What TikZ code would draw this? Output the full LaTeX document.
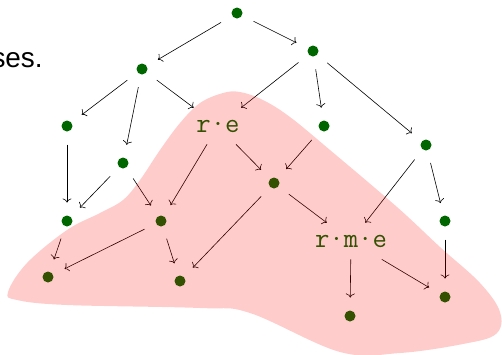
\documentclass[tikz,border=0pt]{standalone}
\usepackage{fontspec}
\setmainfont{Liberation Sans}
\usetikzlibrary{arrows.meta}
\definecolor{cgreen}{HTML}{006600}
\definecolor{cred}{HTML}{FF0000}
\tikzset{
  every picture/.style={line width=0.6pt},
  dot/.style={circle, fill=cgreen, minimum size=11bp, inner sep=0pt, outer sep=13bp},
  term/.style={font=\fontsize{28}{32}\selectfont\ttfamily, text=cgreen, minimum height=36bp, inner sep=3bp},
  edge/.style={-{To[length=4bp, width=9bp]}},
}

\begin{document}
\begin{tikzpicture}[x=1bp, y=-1bp]
  \useasboundingbox (0,0) rectangle (502,354);
  \node[anchor=base east, inner sep=0pt, font=\fontsize{28}{32}\selectfont] (txt) at (43,67) {ses.};

  % the graph, row by row
  \node[dot] (a) at (237,13) {};
  \node[dot] (b) at (142,69) {};
  \node[dot] (c) at (313,51) {};
  \node[dot] (d) at (67,126) {};
  \node[term] (re) at (218,126) {r·e};
  \node[dot] (f) at (324,126) {};
  \node[dot] (g) at (426,145) {};
  \node[dot] (e) at (123,163) {};
  \node[dot] (j) at (274,183) {};
  \node[dot] (h) at (67,221) {};
  \node[dot] (i) at (161,221) {};
  \node[dot] (k) at (445,221) {};
  \node[term] (rme) at (351,241) {r·m·e};
  \node[dot] (l) at (48,277) {};
  \node[dot] (m) at (180,281) {};
  \node[dot] (o) at (445,297) {};
  \node[dot] (n) at (350,316) {};

  \foreach \s/\t in {a/b, a/c, b/d, b/e, b/re, c/re, c/f, c/g, d/h, e/h, e/i,
      re/i, re/j, f/j, g/rme, g/k, h/l, i/l, i/m, j/m, j/rme, rme/n, rme/o, k/o}
    \draw[edge] (\s) -- (\t);

  % shaded region on top
  \fill[cred, opacity=0.2] plot[smooth cycle, tension=0.6] coordinates {
    (8,292) (27,263) (67,230) (100,213) (123,200) (140,180) (160,150)
    (180,123) (200,103) (223,93) (240,92) (263,100) (290,117) (330,150)
    (397,207) (440,247) (480,283) (500,312) (496,334) (463,344) (400,353)
    (340,352) (250,313) (200,308) (67,305) (17,300)};
\end{tikzpicture}
\end{document}
